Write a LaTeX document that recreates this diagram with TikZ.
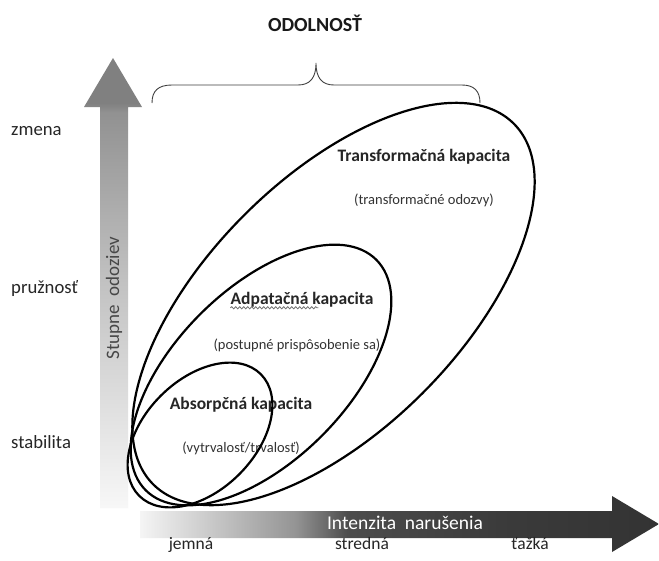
\documentclass[tikz,border=0pt]{standalone}
\usepackage{fontspec}
\setmainfont{Carlito}
\usetikzlibrary{decorations.pathmorphing}
\pgfdeclareverticalshading{vshade}{100bp}{color(0bp)=(black!3); color(25bp)=(black!3); color(50bp)=(black!24); color(69bp)=(black!43); color(70bp)=(black!50); color(100bp)=(black!50)}
\pgfdeclarehorizontalshading{hshade}{100bp}{color(0bp)=(white); color(25bp)=(white!96!black); color(40bp)=(black!42); color(45bp)=(black!70); color(60bp)=(black!77); color(75bp)=(black!80); color(100bp)=(black!80)}
\begin{document}
\begin{tikzpicture}[x=1pt,y=-1pt,
  axislbl/.style={inner sep=0pt, font=\fontsize{18.7}{20}\selectfont, text=black!85},
  botlbl/.style={inner sep=0pt, font=\fontsize{17.5}{20}\selectfont, text=black!85},
  captitle/.style={inner sep=0pt, font=\bfseries\fontsize{17.5}{20}\selectfont, text=black!85},
  capsub/.style={inner sep=0pt, font=\fontsize{14.5}{16}\selectfont, text=black!80},
  ring/.style={draw=black, line width=2.2pt},
  bracestyle/.style={draw=black!75, line width=0.9pt},
  spell/.style={draw=black!55, line width=0.8pt, decorate, decoration={snake, amplitude=1.1pt, segment length=4pt}}]
\useasboundingbox (0,0) rectangle (659,560);
\fill[white] (0,0) rectangle (659,560);

% vertical arrow
\shade[shading=vshade] (100,508) -- (100,107) -- (84,107) -- (113,58) -- (142,107) -- (128,107) -- (128,508) -- cycle;
\node[rotate=90, inner sep=0pt, font=\fontsize{19}{22}\selectfont, text=black!72] (stupne) at (114,298) {Stupne\ \ odoziev};

% horizontal arrow
\shade[shading=hshade] (140,511) -- (612,511) -- (612,496) -- (659,524) -- (612,552) -- (612,538) -- (140,538) -- cycle;
\node[inner sep=0pt, font=\fontsize{19.5}{22}\selectfont, text=white] (intenz) at (405,523) {Intenzita\ \ narušenia};

% axis labels
\node[axislbl, anchor=west] (zmena) at (11,131) {zmena};
\node[axislbl, anchor=west] (pruz) at (11,289) {pružnosť};
\node[axislbl, anchor=west] (stab) at (11,442) {stabilita};
\node[botlbl, anchor=base] (jemna) at (191,549) {jemná};
\node[botlbl, anchor=base] (stredna) at (362,549) {stredná};
\node[botlbl, anchor=base] (tazka) at (530,549) {ťažká};

% title and brace
\node[inner sep=0pt, font=\bfseries\fontsize{20}{24}\selectfont, text=black!90] (odol) at (315,23) {ODOLNOSŤ};
\draw[bracestyle] (152,103) .. controls (152,91) and (158,85) .. (172,85) -- (298,85) .. controls (310,85) and (316,78) .. (316,63) .. controls (316,78) and (322,85) .. (334,85) -- (462,85) .. controls (474,85) and (480,91) .. (480,103);

% texts
\node[captitle] (tk) at (424,157) {Transformačná kapacita};
\node[capsub] (tks) at (424,200) {(transformačné odozvy)};
\node[captitle] (ak) at (302,300) {Adpatačná kapacita};
\node[capsub] (aks) at (297,345) {(postupné prispôsobenie sa)};
\node[captitle] (bk) at (241,405) {Absorpčná kapacita};
\node[capsub] (bks) at (241,448) {(vytrvalosť/trvalosť)};
\draw[spell] ([yshift=-3pt]ak.base west) -- ++(88,0);

% nested capacity shapes
\draw[ring, rotate around={45:(333.5,304)}] (333.5,304) ellipse (255 and 126);
\draw[ring, rotate around={45:(261,375)}] (261,375) ellipse (163 and 86);
\draw[ring, rotate around={45:(200,435)}] (200,435) ellipse (86 and 55.5);
\end{tikzpicture}
\end{document}
